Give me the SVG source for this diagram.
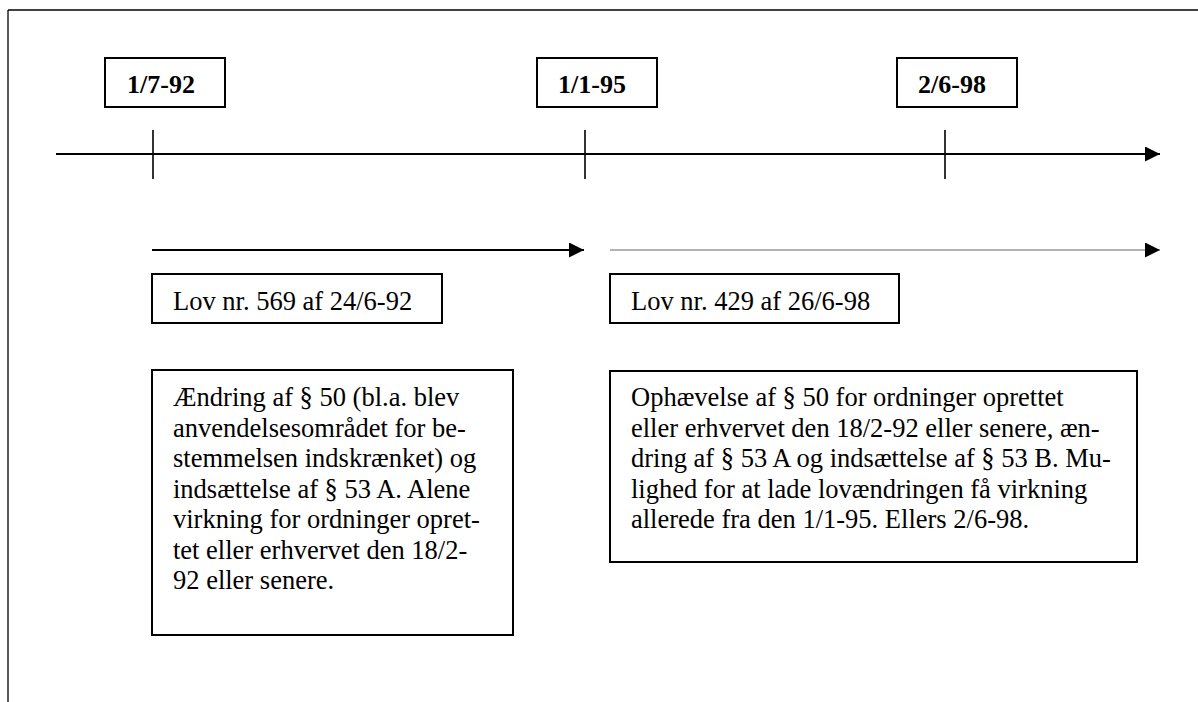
<svg xmlns="http://www.w3.org/2000/svg" width="1198" height="702" viewBox="0 0 1198 702">
<style>
  .box { fill: #fff; stroke: #000; stroke-width: 2; }
  .date { font-family: "Liberation Serif", "Times New Roman", serif; font-weight: bold; font-size: 26px; fill: #000; }
  .txt { font-family: "Liberation Serif", "Times New Roman", serif; font-size: 26.5px; fill: #000; }
  .axis { stroke: #000; stroke-width: 2; fill: none; }
  .tick { stroke: #000; stroke-width: 1.6; }
  .gray { stroke: #999; stroke-width: 1.6; fill: none; }
</style>
<defs>
  <marker id="ah" viewBox="0 0 15 15" refX="15" refY="7.5" markerWidth="15" markerHeight="15" markerUnits="userSpaceOnUse" orient="auto">
    <path d="M0,0 L15,7.5 L0,15 Z" fill="#000"/>
  </marker>
</defs>
<rect width="1198" height="702" fill="#fff"/>
<g id="frame" stroke="#000" stroke-width="1.3" fill="none">
  <line x1="8" y1="10" x2="1198" y2="10"/>
  <line x1="8" y1="10" x2="8" y2="702"/>
</g>
<g id="connectors">
  <line class="axis" x1="56" y1="154" x2="1160" y2="154" marker-end="url(#ah)"/>
  <line class="tick" x1="153" y1="130" x2="153" y2="179"/>
  <line class="tick" x1="585" y1="130" x2="585" y2="179"/>
  <line class="tick" x1="945" y1="130" x2="945" y2="179"/>
  <line class="axis" x1="152" y1="250" x2="584" y2="250" marker-end="url(#ah)"/>
  <line class="gray" x1="610" y1="250" x2="1160" y2="250" marker-end="url(#ah)"/>
</g>
<g id="date1">
  <rect class="box" x="105" y="58" width="120" height="49"/>
  <text class="date" x="127" y="93">1/7-92</text>
</g>
<g id="date2">
  <rect class="box" x="537" y="58" width="120" height="49"/>
  <text class="date" x="558" y="93">1/1-95</text>
</g>
<g id="date3">
  <rect class="box" x="897" y="58" width="120" height="49"/>
  <text class="date" x="918" y="93">2/6-98</text>
</g>
<g id="lov1">
  <rect class="box" x="152" y="274" width="290" height="49"/>
  <text class="txt" x="173" y="310">Lov nr. 569 af 24/6-92</text>
</g>
<g id="lov2">
  <rect class="box" x="610" y="274" width="289" height="49"/>
  <text class="txt" x="631" y="310">Lov nr. 429 af 26/6-98</text>
</g>
<g id="desc1">
  <rect class="box" x="152" y="370" width="361" height="265"/>
  <text class="txt">
    <tspan x="173" y="406">Ændring af § 50 (bl.a. blev</tspan>
    <tspan x="173" y="436.5">anvendelsesområdet for be-</tspan>
    <tspan x="173" y="467">stemmelsen indskrænket) og</tspan>
    <tspan x="173" y="497.5">indsættelse af § 53 A. Alene</tspan>
    <tspan x="173" y="528">virkning for ordninger opret-</tspan>
    <tspan x="173" y="558.5">tet eller erhvervet den 18/2-</tspan>
    <tspan x="173" y="589">92 eller senere.</tspan>
  </text>
</g>
<g id="desc2">
  <rect class="box" x="610" y="371" width="527" height="191"/>
  <text class="txt">
    <tspan x="631" y="406">Ophævelse af § 50 for ordninger oprettet</tspan>
    <tspan x="631" y="436.5">eller erhvervet den 18/2-92 eller senere, æn-</tspan>
    <tspan x="631" y="467">dring af § 53 A og indsættelse af § 53 B. Mu-</tspan>
    <tspan x="631" y="497.5">lighed for at lade lovændringen få virkning</tspan>
    <tspan x="631" y="528">allerede fra den 1/1-95. Ellers 2/6-98.</tspan>
  </text>
</g>
</svg>
